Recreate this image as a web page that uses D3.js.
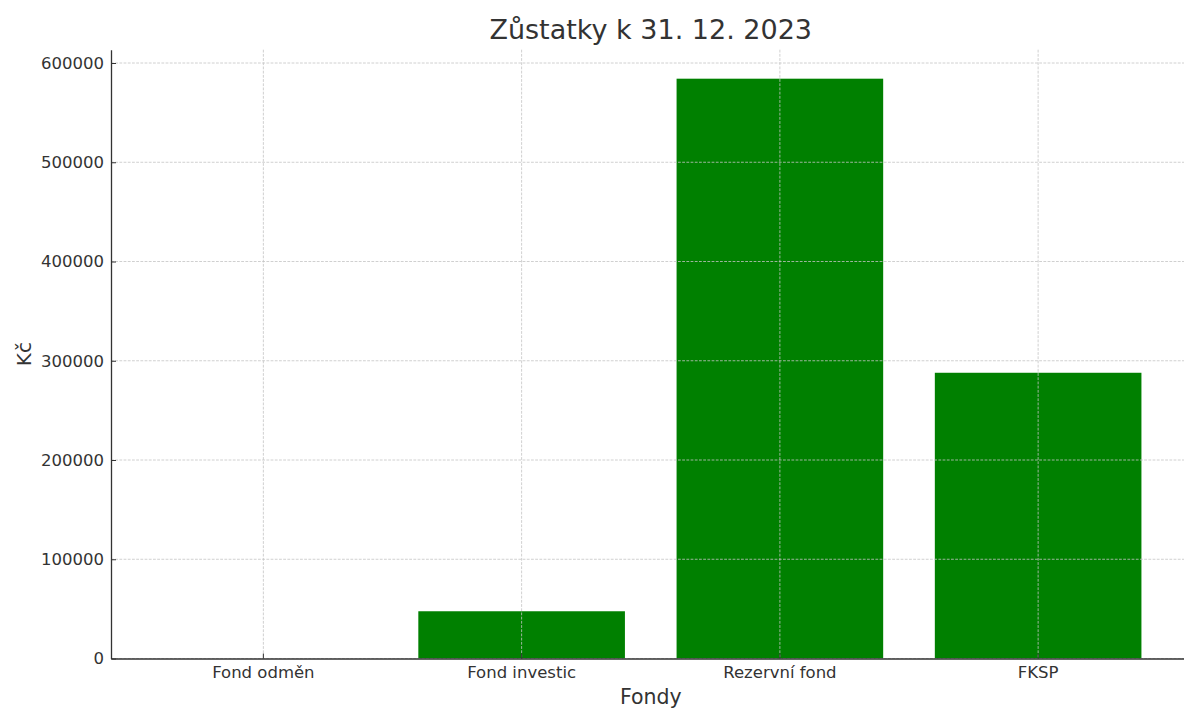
<!DOCTYPE html>
<html>
<head>
<meta charset="utf-8">
<script src="https://cdn.jsdelivr.net/npm/d3@7"></script>
<style>
  body { margin: 0; background: #fff; }
  text { font-family: "DejaVu Sans", sans-serif; fill: #333; }
</style>
</head>
<body>
<div id="chart"></div>
<script>
// Data
let categories = ["Fond odměn", "Fond investic", "Rezervní fond", "FKSP"]
let balances = [0, 47600, 584200, 287900]
let yTicks = [0, 100000, 200000, 300000, 400000, 500000, 600000]

let width = 1184, height = 711
let plotLeft = 111, plotRight = 1190.5, plotTop = 49.7, plotBottom = 658.5

let svg = d3.select('#chart')
    .append('svg')
    .attr('width', width)
    .attr('height', height)

// Scales - band mimics matplotlib bar width 0.8 with 5% margins
let x = d3.scaleBand()
    .domain(categories)
    .range([plotLeft, plotRight])
    .paddingInner(0.2)
    .paddingOuter(0.19)

let y = d3.scaleLinear()
    .domain([0, d3.max(balances) * 1.05])
    .range([plotBottom, plotTop])

// Bars
svg.append('g')
    .selectAll('rect')
    .data(categories)
    .join('rect')
    .attr('x', d => x(d))
    .attr('width', x.bandwidth())
    .attr('y', (d, i) => y(balances[i]))
    .attr('height', (d, i) => plotBottom - y(balances[i]))
    .attr('fill', '#008000')

// Grid lines drawn on top of the bars
let grid = svg.append('g')
    .attr('stroke', '#c4c4c4')
    .attr('stroke-width', 0.8)
    .attr('stroke-dasharray', '2.8,1.4')

grid.selectAll('line.h')
    .data(yTicks)
    .join('line')
    .attr('class', 'h')
    .attr('x1', plotLeft)
    .attr('x2', plotRight)
    .attr('y1', d => y(d))
    .attr('y2', d => y(d))

grid.selectAll('line.v')
    .data(categories)
    .join('line')
    .attr('class', 'v')
    .attr('x1', d => x(d) + x.bandwidth() / 2)
    .attr('x2', d => x(d) + x.bandwidth() / 2)
    .attr('y1', plotTop)
    .attr('y2', plotBottom)

// Axes with inward ticks
let yAxis = svg.append('g')
    .attr('transform', `translate(${plotLeft},0)`)
    .call(d3.axisLeft(y).tickValues(yTicks).tickFormat(d3.format('d')).tickSizeInner(-5).tickSizeOuter(0).tickPadding(7))

let xAxis = svg.append('g')
    .attr('transform', `translate(0,${plotBottom})`)
    .call(d3.axisBottom(x).tickSizeInner(-5).tickSizeOuter(0).tickPadding(8))

for (let ax of [xAxis, yAxis]) {
    ax.select('.domain').attr('stroke', '#333').attr('stroke-width', 1.3)
    ax.selectAll('.tick line').attr('stroke', '#333').attr('stroke-width', 1)
    ax.selectAll('.tick text')
        .style('font-family', '"DejaVu Sans", sans-serif')
        .style('font-size', '16.5px')
        .attr('fill', '#333')
}

// Title and axis labels
svg.append('text')
    .attr('x', (plotLeft + plotRight) / 2)
    .attr('y', 39)
    .attr('text-anchor', 'middle')
    .style('font-size', '27px')
    .text('Zůstatky k 31. 12. 2023')

svg.append('text')
    .attr('x', (plotLeft + plotRight) / 2)
    .attr('y', 704)
    .attr('text-anchor', 'middle')
    .style('font-size', '20.5px')
    .text('Fondy')

svg.append('text')
    .attr('transform', `translate(31,${(plotTop + plotBottom) / 2}) rotate(-90)`)
    .attr('text-anchor', 'middle')
    .style('font-size', '20px')
    .text('Kč')
</script>
</body>
</html>
